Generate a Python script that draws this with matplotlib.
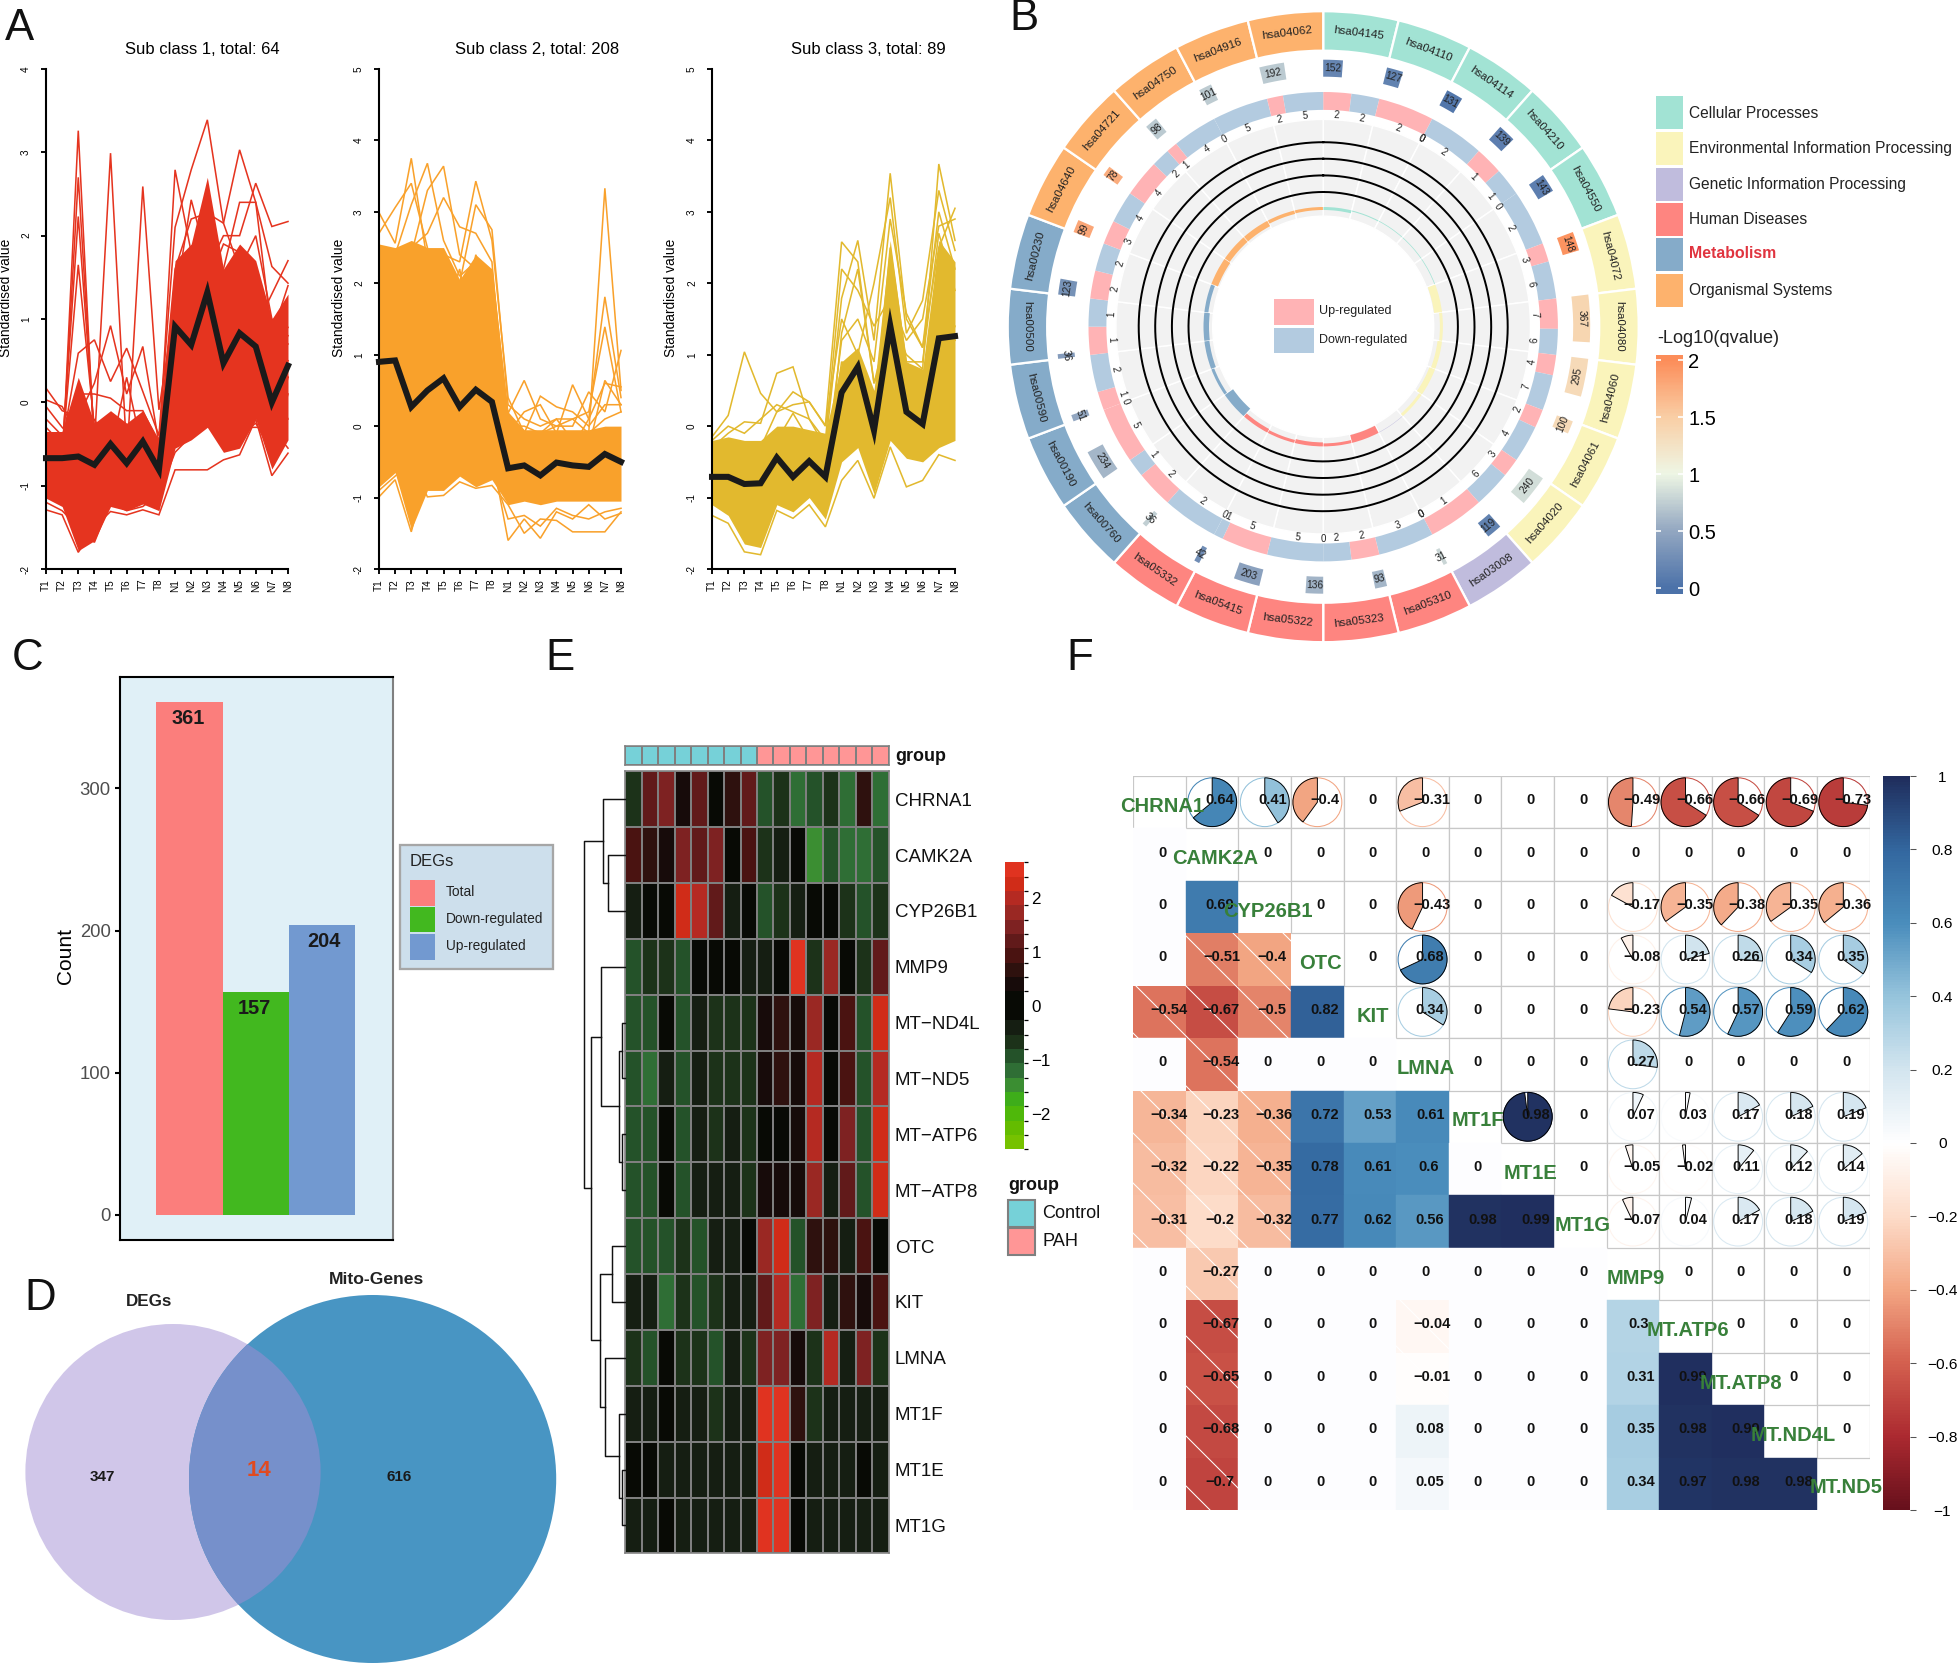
import numpy as np
import matplotlib
matplotlib.use("Agg")
import matplotlib.pyplot as plt
from matplotlib.patches import Rectangle, Ellipse, Wedge, Circle
from matplotlib.colors import LinearSegmentedColormap, ListedColormap, BoundaryNorm, Normalize
from matplotlib.cm import ScalarMappable

plt.rcParams['font.family'] = ['Liberation Sans', 'DejaVu Sans']
plt.rcParams['hatch.linewidth'] = 0.5
plt.rcParams['axes.unicode_minus'] = True

W, H = 1959, 1663
fig = plt.figure(figsize=(W / 150, H / 150), dpi=150, facecolor='white')


def axpx(x0, y0, x1, y1, **kw):
    return fig.add_axes([x0 / W, 1 - y1 / H, (x1 - x0) / W, (y1 - y0) / H], **kw)


# ---------- Panel A data ----------
samples = ['T1', 'T2', 'T3', 'T4', 'T5', 'T6', 'T7', 'T8', 'N1', 'N2', 'N3', 'N4', 'N5', 'N6', 'N7', 'N8']

a1_mean = [-.67, -.67, -.65, -.75, -.5, -.73, -.47, -.81, .91, .69, 1.32, .47, .83, .67, 0, .44]
a1_lo = [-1.15, -1.25, -1.78, -1.66, -1.25, -1.3, -1.22, -1.3, -.55, -.45, -.3, -.6, -.55, -.2, -.8, -.45]
a1_hi = [-.35, -.35, .3, -.25, -.1, -.25, -.1, -.45, 1.7, 1.9, 2.7, 1.6, 1.9, 1.7, 1.0, 1.3]
a1_lines = [
    [-.7, -.8, 3.26, -.6, -.7, -.8, -.7, -.9, .9, 1.0, 1.2, .8, 1.0, .6, .2, .5],
    [-.6, -.7, 2.7, -.5, -.6, -.7, -.5, -.8, 1.4, 1.2, 1.8, .6, 1.5, 1.0, .5, .7],
    [-.5, -.6, 2.23, -.4, -.5, -.6, -.5, -.7, .6, 1.6, 1.0, 1.0, .6, .7, .7, .3],
    [-.4, -.6, 1.65, -.3, -.3, -.5, -.4, -.6, 2.79, 1.8, 1.5, 1, 1.3, 1.1, .5, .8],
    [-.3, -.5, .59, .75, .25, .65, .13, -.4, 2.1, 2.79, 3.39, 2.15, 1.6, 2, 1, .9],
    [.17, -.1, -.17, .23, .92, .1, .67, -.5, 1.6, 2.2, 2.27, 2.15, 3.03, 2.4, .8, 1.4],
    [.03, -.05, -.4, -.5, 2.99, -.6, -.2, -.7, 1.0, 1.4, 1.6, 2.0, 2.0, 2.63, 2.11, 2.17],
    [-.05, -.3, -.5, -.6, -.4, -.7, 2.59, -.09, 1.2, 2.43, 1.7, 1.6, 2.4, 2.4, 1.63, 1.43],
    [-1.29, -1.35, -1.8, -1.5, -1.31, -1.35, -1.29, -1.35, -.81, -.81, -.81, -.69, -.63, -.2, -.88, -.61],
    [-1.2, -1.3, -1.5, -1.68, -1.2, -1.3, -1.25, -1.1, -.6, -.4, -.2, -.4, -.3, -.3, -.3, -.55],
    [-1.0, -1.1, -1.2, -1.0, -1.0, -1.1, -1.0, -1.0, .2, .1, .5, .4, -.3, .3, -.5, .3],
    [-.2, -.4, .1, .1, .05, -.1, -.1, -.5, .9, .5, 1.4, 1.9, 1.8, .9, 1.3, 1.7],
    [-.8, -.9, -.7, -.2, -.6, .3, -.6, -.7, .4, .8, -.2, 1.4, .5, 1.4, .2, -.2],
    [-.9, -1, -.9, -1.1, -.8, -.9, -.9, -1.1, -.4, .5, .3, .2, -.4, -.25, -.6, .1],
]
a2_mean = [.9, .92, .27, .5, .67, .27, .51, .34, -.59, -.55, -.69, -.51, -.55, -.57, -.39, -.5]
a2_lo = [-.85, -.65, -1.45, -.9, -.9, -.7, -.85, -.75, -1.1, -1.05, -1.1, -1.05, -1.05, -1.05, -1.05, -1.05]
a2_hi = [2.55, 2.5, 2.6, 2.5, 2.5, 2.05, 2.4, 2.2, .2, -.05, -.05, -.05, -.05, -.05, 0, 0]
a2_lines = [
    [2.99, 2.56, 3.75, 2.3, 2.0, 1.2, 2.4, 1.6, .18, .64, .1, 0, .1, -.1, .1, .2],
    [2.7, 3.06, 3.4, 2.5, 1.5, 2.2, 1.0, 2.2, .1, -.1, .42, .27, .2, 0, .3, .3],
    [2.4, 2.4, 3.1, 3.68, 2.6, 2.1, 2.3, 1.9, -.1, .2, .3, -.1, .58, .1, .6, .55],
    [2.2, 2.2, 2.4, 3.3, 3.64, 2.4, 2.2, 2.0, 0, 0, -.1, 0, 0, .48, .2, 1.06],
    [2.3, 2.3, 2.5, 2.7, 3.2, 2.79, 2.7, 2.3, -.3, -.2, -.1, .1, -.2, -.1, 3.33, .5],
    [1.9, 2.0, 2.2, 2.3, 2.4, 2.3, 3.43, 2.6, .4, -.1, -.2, -.1, -.3, .1, 1.81, .4],
    [2.1, 1.9, 2.1, 2.2, 2.3, 2.0, 3.1, 2.75, .3, .1, 0, .1, .1, .2, 1.39, .2],
    [.6, .5, .8, .7, .9, .5, .7, .6, -.4, -.3, -.4, -.3, -.2, -.3, .64, .3],
    [-.99, -.75, -1.48, -.6, -.7, -.5, -.6, -.4, -1.6, -1.3, -1.57, -1.2, -1.3, -1.1, -1.3, -1.22],
    [-.9, -.7, -.5, -.99, -.97, -.78, -.87, -.83, -1.1, -1.5, -1.3, -1.32, -1.48, -1.48, -1.48, -1.2],
    [-.6, -.6, -1.2, -.8, -.8, -.6, -.7, -.6, -1.3, -1.25, -1.4, -1.15, -1.25, -1.3, -1.2, -1.15],
]
a3_mean = [-.71, -.71, -.81, -.8, -.44, -.71, -.49, -.71, .47, .83, -.06, 1.41, .2, .03, 1.23, 1.26]
a3_lo = [-1.1, -1.25, -1.65, -1.7, -1.1, -1.2, -1.0, -1.3, -.5, -.3, -.95, -.2, -.45, -.5, -.3, -.2]
a3_hi = [-.2, -.15, -.2, -.2, 0, 0, -.05, -.1, .9, 1.1, .5, 2.6, .9, .8, 2.6, 2.3]
a3_lines = [
    [-.15, .15, 1.04, .46, .2, .3, .34, .01, 2.58, 2.3, .6, 1.5, 1, .8, 3.67, 2.6],
    [-.3, -.1, .06, .04, .74, .83, .1, -.3, 1.79, 2.6, 1.2, 3.54, 1.5, 1.1, 2.5, 3.05],
    [-.6, -.5, -.4, -.3, .2, .48, .34, 0, 1.5, 1.0, 2.0, 3.2, 1.3, 1.76, 3.3, 2.46],
    [-.4, -.2, -.3, -.5, -.2, .18, -.2, -.6, 1.2, 1.5, .9, 2.9, 1.58, 1.1, 3.0, 2.2],
    [-.7, -.6, -.8, -.8, -.5, -.4, -.4, -.7, .9, .8, .1, 2.5, .9, .9, 2.7, 1.9],
    [-1.25, -1.36, -1.76, -1.8, -1.18, -1.29, -1.1, -1.41, -.76, -.48, -1.01, -.29, -.85, -.76, -.4, -.48],
    [-1.0, -1.1, -1.2, -1.3, -.8, -1.0, -.9, -1.0, .2, .3, -.4, .5, .1, -.3, .9, 1.4],
    [-.2, 0, -.1, .1, .3, .2, .1, -.2, 2.2, 1.9, 1.4, 1.8, 1.2, 1.5, 2.8, 2.9],
    [-.8, -.9, -1, -.9, -.7, -.6, -.6, -.9, 1.3, 2.2, .6, 1.2, .6, .2, 1.8, 1.2],
]
a_titles = ['Sub class 1, total: 64', 'Sub class 2, total: 208', 'Sub class 3, total: 89']

# ---------- Panel B data ----------
path_ids = ['hsa04145', 'hsa04110', 'hsa04114', 'hsa04210', 'hsa04550',
            'hsa04072', 'hsa04080', 'hsa04060', 'hsa04061', 'hsa04020',
            'hsa03008',
            'hsa05310', 'hsa05323', 'hsa05322', 'hsa05415', 'hsa05332',
            'hsa00760', 'hsa00190', 'hsa00590', 'hsa00500', 'hsa00230',
            'hsa04640', 'hsa04721', 'hsa04750', 'hsa04916', 'hsa04062']
path_class = [0] * 5 + [1] * 5 + [2] + [3] * 5 + [4] * 5 + [5] * 5
gene_totals = [152, 127, 131, 139, 143, 148, 367, 295, 100, 240, 119, 31, 93, 136, 203, 42,
               36, 234, 51, 36, 123, 99, 78, 98, 101, 192]
neglogq = [.18, .15, .05, .12, .12, 1.95, 1.4, 1.35, 1.35, .85, .15, .8, .6, .58, .45, .25,
           .75, .6, .5, .4, .3, 1.8, 1.75, .72, .73, .72]
up_counts = [2, 2, 0, 1, 0, 3, 7, 4, 2, 3, 1, 0, 2, 0, 5, 0, 2, 5, 1, 1, 2, 3, 4, 1, 0, 2]
down_counts = [2, 0, 2, 1, 2, 6, 6, 7, 4, 6, 0, 3, 2, 5, 1, 2, 1, 0, 2, 1, 2, 4, 2, 4, 5, 5]
rich_bar = [3, 1, .7, .7, .7, 8, 3, 4.5, 6, 3, .4, 8, 3, 4, 3, 4, 10, 3, 5, 5.5, 4, 7, 6, 6, 3.5, 3]
class_names = ['Cellular Processes', 'Environmental Information Processing', 'Genetic Information Processing',
               'Human Diseases', 'Metabolism', 'Organismal Systems']
class_colors = ['#a2e3d4', '#faf4bb', '#c0bcdd', '#fe8580', '#85abc9', '#fdb26d']
q_ticks = [0, .5, 1, 1.5, 2]
q_tick_labels = ['0', '0.5', '1', '1.5', '2']

# ---------- Panel C data ----------
deg_names = ['Total', 'Down-regulated', 'Up-regulated']
deg_counts = [361, 157, 204]
deg_colors = ['#fb7e7c', '#42b81f', '#7299d0']

# ---------- Panel D data ----------
venn_counts = [347, 14, 616]

# ---------- Panel E data ----------
heat_genes = ['CHRNA1', 'CAMK2A', 'CYP26B1', 'MMP9', 'MT\u2212ND4L', 'MT\u2212ND5', 'MT\u2212ATP6', 'MT\u2212ATP8',
              'OTC', 'KIT', 'LMNA', 'MT1F', 'MT1E', 'MT1G']
heat_values = [
    [-.6, 1.2, 1.45, .3, 1.2, 0, .55, 1.2, -.9, -.6, -1.2, -.9, -.6, -1.2, .55, -1.2],
    [.9, .55, .3, 1.45, 1.2, 1.45, 0, .9, -.6, -.3, 0, -1.5, -.9, -1.2, -1.2, -.9],
    [-.3, 0, 0, 2.25, 2.0, 1.2, -.3, 0, -.9, -.6, -.3, 0, 0, -.6, -.9, -.6],
    [-.9, -.6, -.6, -.9, 0, 0, 0, -.3, -.3, 0, 2.5, -.6, 1.7, 0, -.6, 1.2],
    [-.9, -.9, 0, -.9, -.3, -.6, -.6, -.6, .3, .55, .3, 1.7, 0, .9, -.9, 2.25],
    [-.9, -1.2, -.3, -.9, -.3, -.6, -.6, -.6, .3, .55, .3, 2.0, 0, .9, -.9, 2.0],
    [-.9, -.9, 0, -.9, -.3, -.6, -.3, -.6, 0, 0, .3, 2.0, 0, 1.45, -.9, 2.25],
    [-.9, -.9, 0, -.9, -.3, -.3, -.3, -.6, .3, .3, .3, 1.7, -.3, 1.2, -.9, 2.25],
    [-.9, -.9, -.9, -.6, -.9, -.3, -.3, 0, 1.7, 2.25, -.9, .55, .55, -.3, .9, 0],
    [-.3, -.3, -1.2, -.6, -.9, -.6, -.3, -.3, 1.2, 2.0, -1.2, 1.45, -.3, .55, .3, .9],
    [-.6, -.9, 0, -.6, -.6, -.9, -.3, -.6, 1.45, 1.45, .3, -.6, 2.0, -.3, 1.45, -.6],
    [-.3, -.3, 0, -.3, -.3, -.6, -.3, -.3, 2.5, 2.5, .55, -.6, -.3, -.3, -.3, -.3],
    [0, 0, -.3, -.3, -.3, -.3, -.3, -.3, 2.25, 2.5, 0, -.3, -.3, -.3, 0, -.3],
    [-.3, -.3, 0, -.3, -.3, -.3, -.3, -.3, 2.5, 2.5, 0, -.3, -.3, -.3, -.3, -.3],
]
heat_groups = [0] * 8 + [1] * 8
heat_palette = ['#76c200', '#64bc00', '#4fb80a', '#3ead1a', '#3b8e32', '#2f6e35', '#245229', '#1c3219', '#151e12',
                '#080a05', '#080a05', '#170b0a', '#2e110e', '#4a1311', '#611a1a', '#7e2222', '#9a2823', '#b52a22',
                '#d02c18', '#e03320']
# dendrogram merges: (left node, right node, height); nodes >= 14 are earlier merges
dendro_merges = [(1, 2, 45), (0, 14, 60), (4, 5, 8), (6, 7, 8), (16, 17, 15), (3, 18, 65),
                 (8, 9, 34), (12, 13, 8), (11, 21, 15), (10, 22, 55), (20, 23, 68),
                 (19, 24, 92), (15, 25, 112)]

# ---------- Panel F data ----------
corr_names = ['CHRNA1', 'CAMK2A', 'CYP26B1', 'OTC', 'KIT', 'LMNA', 'MT1F', 'MT1E', 'MT1G', 'MMP9',
              'MT.ATP6', 'MT.ATP8', 'MT.ND4L', 'MT.ND5']
corr_matrix = [
    [1, .64, .41, -.4, 0, -.31, 0, 0, 0, -.49, -.66, -.66, -.69, -.73],
    [0, 1, 0, 0, 0, 0, 0, 0, 0, 0, 0, 0, 0, 0],
    [0, .69, 1, 0, 0, -.43, 0, 0, 0, -.17, -.35, -.38, -.35, -.36],
    [0, -.51, -.4, 1, 0, .68, 0, 0, 0, -.08, .21, .26, .34, .35],
    [-.54, -.67, -.5, .82, 1, .34, 0, 0, 0, -.23, .54, .57, .59, .62],
    [0, -.54, 0, 0, 0, 1, 0, 0, 0, .27, 0, 0, 0, 0],
    [-.34, -.23, -.36, .72, .53, .61, 1, .98, 0, .07, .03, .17, .18, .19],
    [-.32, -.22, -.35, .78, .61, .6, 0, 1, 0, -.05, -.02, .11, .12, .14],
    [-.31, -.2, -.32, .77, .62, .56, .98, .99, 1, -.07, .04, .17, .18, .19],
    [0, -.27, 0, 0, 0, 0, 0, 0, 0, 1, 0, 0, 0, 0],
    [0, -.67, 0, 0, 0, -.04, 0, 0, 0, .3, 1, 0, 0, 0],
    [0, -.65, 0, 0, 0, -.01, 0, 0, 0, .31, .99, 1, 0, 0],
    [0, -.68, 0, 0, 0, .08, 0, 0, 0, .35, .98, .99, 1, 0],
    [0, -.7, 0, 0, 0, .05, 0, 0, 0, .34, .97, .98, .98, 1],
]
corr_cbar_ticks = [-1, -.8, -.6, -.4, -.2, 0, .2, .4, .6, .8, 1]

# ===================== Panel A =====================
a_boxes = [(46, 288), (379, 621), (712, 955)]
a_colors = ['#e5341f', '#f9a12b', '#e2b92e']
a_ylim = [(-2, 4), (-2, 5), (-2, 5)]
a_sets = [(a1_mean, a1_lo, a1_hi, a1_lines), (a2_mean, a2_lo, a2_hi, a2_lines), (a3_mean, a3_lo, a3_hi, a3_lines)]
a_title_x = [280, 619, 946]
a_label_x = [6, 339, 671]
ov = axpx(0, 0, W, H)
ov.set_xlim(0, W)
ov.set_ylim(H, 0)
ov.axis('off')
ov.set_zorder(20)
ov.patch.set_alpha(0)

xs = np.arange(1, 17)
for k in range(3):
    x0, x1 = a_boxes[k]
    ax = axpx(x0, 69, x1, 569)
    mean, lo, hi, lines = a_sets[k]
    col = a_colors[k]
    ax.fill_between(xs, lo, hi, color=col, lw=0, clip_on=False)
    for l in lines:
        ax.plot(xs, l, color=col, lw=0.75, clip_on=False, solid_joinstyle='miter')
    ax.plot(xs, mean, color='#1a1a1a', lw=2.9, clip_on=False, solid_joinstyle='miter', zorder=5)
    ax.set_xlim(1, 16)
    ax.set_ylim(*a_ylim[k])
    ax.set_xticks(xs)
    ax.set_xticklabels(samples, rotation=90, fontsize=4.8)
    yt = np.arange(a_ylim[k][0], a_ylim[k][1] + 1)
    ax.set_yticks(yt)
    ax.set_yticklabels([str(v) for v in yt], rotation=90, fontsize=4.8, va='center')
    ax.tick_params(axis='both', length=2.2, width=0.9, pad=2.5)
    ax.tick_params(axis='y', pad=5)
    for s in ['top', 'right']:
        ax.spines[s].set_visible(False)
    for s in ['left', 'bottom']:
        ax.spines[s].set_linewidth(1.0)
    ov.text(a_title_x[k], 50, a_titles[k], ha='right', va='center', fontsize=8)
    ov.text(a_label_x[k], 298, 'Standardised value', rotation=90, ha='center', va='center', fontsize=6.6)

# ===================== Panel B =====================
cx, cy, Rmax = 1323.2, 326.7, 320
pax = axpx(cx - Rmax, cy - Rmax, cx + Rmax, cy + Rmax, projection='polar')
pax.set_theta_zero_location('N')
pax.set_theta_direction(-1)
pax.set_ylim(0, Rmax)
pax.axis('off')
n = len(path_ids)
sw = 360.0 / n
q_cmap = LinearSegmentedColormap.from_list('q', [(0, '#4c72a9'), (.25, '#93a7c1'), (.5, '#eef6e4'),
                                                 (.75, '#f9cea5'), (1, '#fc8d59')])


def rot(a):
    a = a % 360
    if a <= 90.001:
        return -a
    if a <= 270.001:
        return 180 - a
    return 360 - a


for i in range(n):
    st = i * sw
    c = class_colors[path_class[i]]
    pax.bar(np.radians(st), 315.5 - 276, width=np.radians(sw), bottom=276, align='edge',
            color=c, edgecolor='white', linewidth=1.1)
    pax.text(np.radians(st + sw / 2), 296, path_ids[i], rotation=rot(st + sw / 2), rotation_mode='anchor',
             ha='center', va='center', fontsize=5.5, color='#222222')
    # gene total blocks
    wd = gene_totals[i] * 0.028
    pax.bar(np.radians(st), 17, width=np.radians(wd), bottom=250, align='edge',
            color=q_cmap(neglogq[i] / 2), linewidth=0)
    pax.text(np.radians(st + wd / 2), 258.5, str(gene_totals[i]), rotation=rot(st + wd / 2), rotation_mode='anchor',
             ha='center', va='center', fontsize=4.9, color='#222222')
    # up / down ring
    tot = up_counts[i] + down_counts[i]
    uw = sw * up_counts[i] / tot
    if up_counts[i]:
        pax.bar(np.radians(st), 234.7 - 216.8, width=np.radians(uw), bottom=216.8, align='edge', color='#ffb3b5', lw=0)
    if down_counts[i]:
        pax.bar(np.radians(st + uw), 234.7 - 216.8, width=np.radians(sw - uw), bottom=216.8, align='edge',
                color='#b3cbe0', lw=0)
    a_u, a_d = st + uw / 2, st + uw + (sw - uw) / 2
    pax.text(np.radians(a_u), 212, str(up_counts[i]), rotation=rot(a_u), rotation_mode='anchor', ha='center',
             va='center', fontsize=4.7, color='#222222')
    pax.text(np.radians(a_d), 212, str(down_counts[i]), rotation=rot(a_d), rotation_mode='anchor', ha='center',
             va='center', fontsize=4.7, color='#222222')
    # grey track
    pax.bar(np.radians(st), 207.3 - 110.5, width=np.radians(sw), bottom=110.5, align='edge', color='#f2f2f2',
            edgecolor='white', linewidth=0.7)
    # inner enrichment bars
    pax.bar(np.radians(st + .15), rich_bar[i], width=np.radians(sw - .3), bottom=119.7 - rich_bar[i], align='edge',
            color=c, linewidth=0, zorder=3)
th = np.linspace(0, 2 * np.pi, 720)
for r in [134.7, 151.3, 168, 184.5]:
    pax.plot(th, np.full_like(th, r), color='black', lw=0.95, zorder=4)

# inner legend of B
ov.add_patch(Rectangle((1274, 299.3), 40.3, 25.7, color='#ffb3b5', lw=0))
ov.add_patch(Rectangle((1274, 327.7), 40.3, 25.6, color='#b3cbe0', lw=0))
ov.text(1319.3, 310.7, 'Up-regulated', fontsize=6, va='center', color='#222222')
ov.text(1319.3, 340, 'Down-regulated', fontsize=6, va='center', color='#222222')

# class legend
sw_y = [(96.2, 129.3), (131.7, 164.5), (167.8, 201), (203, 236), (238, 271.2), (273.6, 306.7)]
tx_y = [113, 148.2, 184, 219, 254, 290]
for i, nm in enumerate(class_names):
    ov.add_patch(Rectangle((1656, sw_y[i][0]), 27, sw_y[i][1] - sw_y[i][0], color=class_colors[i], lw=0))
    if nm == 'Metabolism':
        ov.text(1689.3, tx_y[i], nm, fontsize=7.6, va='center', color='#e0343f', fontweight='bold')
    else:
        ov.text(1689.3, tx_y[i], nm, fontsize=7.45, va='center', color='#222222')
ov.text(1657, 338.4, '-Log10(qvalue)', fontsize=8.7, va='center', color='#222222')
qax = axpx(1656, 355.3, 1683, 593.5)
qy = np.linspace(-.045, 2.045, 200)
qax.pcolormesh([0, 1], qy, qy[:-1].reshape(-1, 1), cmap=q_cmap, norm=Normalize(0, 2))
qax.set_ylim(-.045, 2.045)
qax.set_xlim(0, 1)
qax.set_xticks([])
qax.yaxis.tick_right()
qax.set_yticks(q_ticks)
qax.set_yticklabels(q_tick_labels, fontsize=9.7)
qax.tick_params(axis='y', length=0, pad=2.5)
for s in qax.spines.values():
    s.set_visible(False)
qax.hlines(q_ticks, 0, .2, color='white', lw=0.8)
qax.hlines(q_ticks, .8, 1, color='white', lw=0.8)

# ===================== Panel C =====================
cax_ = axpx(120, 677, 392.6, 1240)
cax_.set_facecolor('#e0f0f7')
cax_.bar(range(3), deg_counts, width=1, color=deg_colors, lw=0)
label_dx = [-.02, -.03, .02]
for i, v in enumerate(deg_counts):
    cax_.text(i + label_dx[i], v - 12, str(v), ha='center', va='center', fontsize=9.6, fontweight='bold',
              color='#1a1a1a')
cax_.set_xlim(-1.048, 3.06)
cax_.set_ylim(-17.8, 378.4)
cax_.set_xticks([])
cax_.set_yticks([0, 100, 200, 300])
cax_.tick_params(axis='y', labelsize=8.9, labelcolor='#4d4d4d', length=2.5, width=1, pad=2)
for s in cax_.spines.values():
    s.set_linewidth(1.0)
cax_.spines['right'].set_color('#808080')
ov.text(65.4, 955.7, 'Count', rotation=90, ha='center', va='center', fontsize=10)
ov.add_patch(Rectangle((400, 845), 153, 124, facecolor='#cddfec', edgecolor='#a6a6a6', lw=1.1))
ov.text(410, 861.8, 'DEGs', fontsize=8, va='center', color='#222222')
leg_y = [(879.8, 905.5), (906.7, 932.4), (934, 960)]
leg_t = [892, 919, 946.3]
for i, nm in enumerate(deg_names):
    ov.add_patch(Rectangle((409.7, leg_y[i][0]), 25.3, leg_y[i][1] - leg_y[i][0], color=deg_colors[i], lw=0))
    ov.text(445.6, leg_t[i], nm, fontsize=6.6, va='center', color='#222222')

# ===================== Panel D =====================
e_left = Ellipse((173, 1472), 295.2, 296, facecolor='#d0c6e9', lw=0)
e_right = Ellipse((372.6, 1479), 367.2, 368, facecolor='#4895c3', lw=0)
ov.add_patch(e_left)
ov.add_patch(e_right)
e_over = Ellipse((173, 1472), 295.2, 296, facecolor='#7690cb', lw=0)
ov.add_patch(e_over)
e_over.set_clip_path(e_right)
ov.text(149, 1301, 'DEGs', fontsize=8.2, fontweight='bold', ha='center', va='center', color='#222222')
ov.text(376, 1279, 'Mito-Genes', fontsize=8.4, fontweight='bold', ha='center', va='center', color='#222222')
ov.text(102.5, 1477, str(venn_counts[0]), fontsize=7.3, fontweight='bold', ha='center', va='center', color='#1a1a1a')
ov.text(259, 1471, str(venn_counts[1]), fontsize=10.7, fontweight='bold', ha='center', va='center', color='#e04a20')
ov.text(399.5, 1477, str(venn_counts[2]), fontsize=7.3, fontweight='bold', ha='center', va='center', color='#1a1a1a')

# ===================== Panel E =====================
hmax = 2.66
h_bounds = np.linspace(-hmax, hmax, 21)
h_cmap = ListedColormap(heat_palette)
h_norm = BoundaryNorm(h_bounds, 20)
hax = axpx(625.4, 771.2, 888.6, 1553.4)
hax.pcolormesh(np.arange(17), np.arange(15), np.array(heat_values), cmap=h_cmap, norm=h_norm,
               edgecolors='#7f7f7f', linewidth=0.75)
hax.set_xlim(0, 16)
hax.set_ylim(14, 0)
hax.set_xticks([])
hax.yaxis.tick_right()
hax.set_yticks(np.arange(14) + .5)
hax.set_yticklabels(heat_genes, fontsize=9, color='#111111')
hax.tick_params(axis='y', length=0, pad=3)
for s in hax.spines.values():
    s.set_edgecolor('#7f7f7f')
    s.set_linewidth(0.75)
group_colors = ['#76d1d8', '#ff9696']
gax = axpx(625.4, 746, 888.6, 764.8)
gax.pcolormesh(np.arange(17), [0, 1], np.array([heat_groups]), cmap=ListedColormap(group_colors),
               edgecolors='#7f7f7f', linewidth=0.75)
gax.set_xticks([])
gax.set_yticks([])
for s in gax.spines.values():
    s.set_edgecolor('#7f7f7f')
    s.set_linewidth(0.75)
ov.text(895, 756.5, 'group', fontsize=8.6, fontweight='bold', va='center', color='#111111')

dax = axpx(584.3, 771.2, 624.6, 1553.4)
dax.set_xlim(112, 0)
dax.set_ylim(14, 0)
dax.axis('off')
pos = {i: (0.0, i + .5) for i in range(14)}
for m, (a, b, h) in enumerate(dendro_merges):
    (ha_, ya), (hb, yb) = pos[a], pos[b]
    dax.plot([ha_, h, h, hb], [ya, ya, yb, yb], color='#111111', lw=0.7, clip_on=False)
    pos[14 + m] = (h, (ya + yb) / 2)

hc = axpx(1005, 862.3, 1024.3, 1149.4)
cb = fig.colorbar(ScalarMappable(norm=h_norm, cmap=h_cmap), cax=hc, ticks=[-2, -1, 0, 1, 2], spacing='proportional',
                  drawedges=False)
cb.outline.set_visible(False)
cb.ax.tick_params(length=0, labelsize=8.2, pad=3.5)
cb.ax.set_yticklabels(['\u22122', '\u22121', '0', '1', '2'])
ov.text(1008, 1186, 'group', fontsize=8.6, fontweight='bold', va='center', color='#111111')
ov.add_patch(Rectangle((1008, 1200), 27, 27, facecolor=group_colors[0], edgecolor='#7f7f7f', lw=1))
ov.add_patch(Rectangle((1008, 1227.5), 27, 27, facecolor=group_colors[1], edgecolor='#7f7f7f', lw=1))
ov.text(1042, 1214, 'Control', fontsize=8.7, va='center', color='#111111')
ov.text(1042, 1241, 'PAH', fontsize=8.7, va='center', color='#111111')

# ===================== Panel F =====================
corr_cmap = LinearSegmentedColormap.from_list('corr', [(0, '#67101c'), (.1, '#ac2a30'), (.2, '#d4604f'), (.3, '#f3a683'),
                                                       (.4, '#fddcc9'), (.5, '#ffffff'), (.6, '#d3e5ef'), (.7, '#96c4dc'),
                                                       (.8, '#4a8dbc'), (.9, '#33679f'), (1, '#1f2d5c')])
c_norm = Normalize(-1, 1)
fax = axpx(1133.3, 776, 1869.6, 1510)
fax.set_xlim(0, 14)
fax.set_ylim(14, 0)
fax.axis('off')
N = len(corr_names)
rad = 0.465
green = '#38803a'
for r_ in range(N):
    for c_ in range(N):
        if c_ > r_:
            fax.add_patch(Rectangle((c_, r_), 1, 1, facecolor='white', edgecolor='#c8c8c8', lw=0.6, zorder=1))
fax.plot([0, 0, 1], [1, 0, 0], color='#c8c8c8', lw=0.6, zorder=1)
for r_ in range(N):
    for c_ in range(N):
        v = corr_matrix[r_][c_]
        colr = corr_cmap(c_norm(v))
        if c_ < r_:
            fc = '#fdfdff' if v == 0 else colr
            if v < 0:
                fax.add_patch(Rectangle((c_, r_), 1, 1, facecolor=fc, edgecolor='white', hatch='\\', lw=0, zorder=2))
            else:
                fax.add_patch(Rectangle((c_, r_), 1, 1, facecolor=fc, edgecolor=fc, lw=0.2, zorder=2))
        elif c_ > r_ and v != 0:
            fax.add_patch(Circle((c_ + .5, r_ + .5), rad, facecolor='white', edgecolor=colr, lw=0.5, zorder=3))
            if v > 0:
                t1, t2 = -90, -90 + 360 * v
            else:
                t1, t2 = -90 + 360 * v, -90
            fax.add_patch(Wedge((c_ + .5, r_ + .5), rad, t1, t2, facecolor=colr, edgecolor='black', lw=0.45, zorder=4))
        if c_ != r_:
            s = f'{v:g}'.replace('-', '\u2212')
            off = (3 * len(s) + 2) / 97
            fax.text(c_ + .5 + off, r_ + .46, s, ha='center', va='center', fontsize=7, fontweight='bold',
                     color='#111111', zorder=6)
for i, nm in enumerate(corr_names):
    fax.text(i + .55, i + .58, nm, ha='center', va='center', fontsize=9.7, fontweight='bold', color=green, zorder=7,
             clip_on=False)

fc_ax = axpx(1882.6, 776, 1910.2, 1510)
cb2 = fig.colorbar(ScalarMappable(norm=c_norm, cmap=corr_cmap), cax=fc_ax, ticks=corr_cbar_ticks)
cb2.outline.set_visible(False)
cb2.ax.set_yticklabels([f'{t:g}'.replace('-', '\u2212') for t in corr_cbar_ticks], ha='center', fontsize=7.4)
cb2.ax.tick_params(length=3, width=0.5, pad=12.5, color='#555555')

# ===================== panel letters =====================
letters = {'A': (19, 28), 'B': (1024, 19), 'C': (28, 659), 'D': (40, 1299), 'E': (560, 659), 'F': (1080, 659)}
for k, (x, y) in letters.items():
    ov.text(x, y, k, fontsize=21, ha='center', va='center', color='#111111')

fig.savefig('out.png', dpi=150, facecolor='white')
